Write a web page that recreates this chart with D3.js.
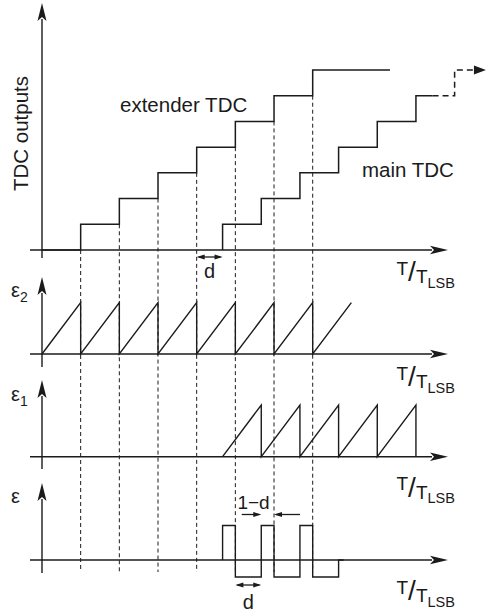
<!DOCTYPE html>
<html>
<head>
<meta charset="utf-8">
<script src="https://cdn.jsdelivr.net/npm/d3@7"></script>
<style>
  html, body { margin: 0; padding: 0; background: #fff; }
  svg { display: block; font-family: "Liberation Sans", Arial, Helvetica, sans-serif; }
</style>
</head>
<body>
<svg id="chart" width="486" height="615"></svg>
<script>
// ---- data (time in units of T_LSB) ----
// extender TDC output: [time, code], drawn as step-after
const extenderTDC = [[0, 0], [1, 1], [2, 2], [3, 3], [4, 4], [5, 5], [6, 6], [7, 7], [9, 7]];
// main TDC output, delayed by d
const mainTDC = [[4.67, 0], [4.67, 1], [5.67, 2], [6.67, 3], [7.67, 4], [8.67, 5], [9.67, 6], [10.1, 6]];
// main TDC continuation (dashed)
const mainTDCNext = [[10.1, 6], [10.67, 7], [11.48, 7]];
// extender TDC quantisation error
const eps2 = [[0, 0], [1, 1], [1, 0], [2, 1], [2, 0], [3, 1], [3, 0], [4, 1], [4, 0], [5, 1], [5, 0], [6, 1], [6, 0], [7, 1], [7, 0], [8, 1]];
// main TDC quantisation error
const eps1 = [[4.67, 0], [5.67, 1], [5.67, 0], [6.67, 1], [6.67, 0], [7.67, 1], [7.67, 0], [8.67, 1], [8.67, 0], [9.67, 1], [9.67, 0]];
// difference of the two errors, step-after
const eps = [[4.67, 0], [4.67, 0.67], [5, -0.33], [5.67, 0.67], [6, -0.33], [6.67, 0.67], [7, -0.33], [7.67, 0], [7.8, 0]];
// extender transitions marked by dashed guides
const guideTimes = [1, 2, 3, 4, 5, 6, 7];
// dimension markers
const dTop = [4, 4.67];
const dBottom = [5, 5.67];
const oneMinusD = [5.67, 6];

const svg = d3.select("#chart");
const ink = "#1b1b1b";

const x = d3.scaleLinear().domain([0, 10]).range([42, 428.7]);
const yTop = d3.scaleLinear().domain([0, 7]).range([250, 70]);
const yE2 = d3.scaleLinear().domain([0, 1]).range([354, 302.7]);
const yE1 = d3.scaleLinear().domain([0, 1]).range([456.7, 405]);
const yE = d3.scaleLinear().domain([0, 1]).range([560, 508.5]);

// dashed guides at extender transitions
const guides = svg.append("g");
guideTimes.forEach(t => {
  const before = extenderTDC.find(p => p[0] === t);
  const lvl = before[1] - 1;
  guides.append("line")
    .attr("x1", x(t)).attr("x2", x(t))
    .attr("y1", yTop(lvl)).attr("y2", 572)
    .attr("stroke", ink).attr("stroke-width", 1)
    .attr("stroke-dasharray", "4,3");
});

// axes with arrowheads
function hArrow(y0) {
  const x0 = 30, tip = 448, len = 18, hw = 4.2;
  svg.append("line").attr("x1", x0).attr("x2", tip - len + 2).attr("y1", y0).attr("y2", y0)
    .attr("stroke", ink).attr("stroke-width", 1.4);
  svg.append("path").attr("d", `M${tip},${y0}L${tip - len},${y0 - hw}L${tip - len + 4},${y0}L${tip - len},${y0 + hw}Z`)
    .attr("fill", ink);
}
function vArrow(bottom, tip) {
  const x0 = 42, len = 18, hw = 4.5;
  svg.append("line").attr("x1", x0).attr("x2", x0).attr("y1", bottom).attr("y2", tip + len - 2)
    .attr("stroke", ink).attr("stroke-width", 1.4);
  svg.append("path").attr("d", `M${x0},${tip}L${x0 - hw},${tip + len}L${x0},${tip + len - 4}L${x0 + hw},${tip + len}Z`)
    .attr("fill", ink);
}
hArrow(250); vArrow(258, 3);
hArrow(354); vArrow(367, 277);
hArrow(456.7); vArrow(469, 380);
hArrow(560); vArrow(573, 483);

// TDC output staircases
const stepLine = (ys) => d3.line().x(d => x(d[0])).y(d => ys(d[1])).curve(d3.curveStepAfter);
const polyLine = (ys) => d3.line().x(d => x(d[0])).y(d => ys(d[1]));

svg.append("path").attr("d", stepLine(yTop)(extenderTDC))
  .attr("fill", "none").attr("stroke", ink).attr("stroke-width", 1.5);
svg.append("path").attr("d", stepLine(yTop)(mainTDC))
  .attr("fill", "none").attr("stroke", ink).attr("stroke-width", 1.5);
const nextPts = mainTDCNext.slice(0, -1).concat([[mainTDCNext[2][0] - 0.3, mainTDCNext[2][1]]]);
svg.append("path").attr("d", stepLine(yTop)(nextPts))
  .attr("fill", "none").attr("stroke", ink).attr("stroke-width", 1.5).attr("stroke-dasharray", "6,4");
{
  const tx = x(mainTDCNext[2][0]), ty = yTop(mainTDCNext[2][1]);
  svg.append("path").attr("d", `M${tx},${ty}L${tx - 12},${ty - 4.5}L${tx - 12},${ty + 4.5}Z`).attr("fill", ink);
}

// quantisation errors
svg.append("path").attr("d", polyLine(yE2)(eps2))
  .attr("fill", "none").attr("stroke", ink).attr("stroke-width", 1.4);
svg.append("path").attr("d", polyLine(yE1)(eps1))
  .attr("fill", "none").attr("stroke", ink).attr("stroke-width", 1.4);
svg.append("path").attr("d", stepLine(yE)(eps))
  .attr("fill", "none").attr("stroke", ink).attr("stroke-width", 1.4);

// dimension arrows
function arrowHead(xt, y0, dir) {
  const len = 8, hw = 2.6;
  svg.append("path").attr("d", `M${xt},${y0}L${xt - dir * len},${y0 - hw}L${xt - dir * len},${y0 + hw}Z`).attr("fill", ink);
}
function doubleArrow(t0, t1, y0) {
  svg.append("line").attr("x1", x(t0) + 2).attr("x2", x(t1) - 2).attr("y1", y0).attr("y2", y0)
    .attr("stroke", ink).attr("stroke-width", 1.3);
  arrowHead(x(t0), y0, -1);
  arrowHead(x(t1), y0, 1);
}
doubleArrow(dTop[0], dTop[1], 257);
doubleArrow(dBottom[0], dBottom[1], 585);
{
  const y0 = 514.5;
  svg.append("line").attr("x1", 241.7).attr("x2", x(oneMinusD[0]) - 2).attr("y1", y0).attr("y2", y0)
    .attr("stroke", ink).attr("stroke-width", 1.3);
  svg.append("line").attr("x1", x(oneMinusD[1]) + 2).attr("x2", 300).attr("y1", y0).attr("y2", y0)
    .attr("stroke", ink).attr("stroke-width", 1.3);
  arrowHead(x(oneMinusD[0]), y0, 1);
  arrowHead(x(oneMinusD[1]), y0, -1);
}

// text
const txt = (s, tx, ty, size, anchor) => svg.append("text").attr("x", tx).attr("y", ty)
  .attr("font-size", size).attr("fill", ink).attr("text-anchor", anchor || "start").text(s);

svg.append("text").attr("transform", "translate(28,133.5) rotate(-90)")
  .attr("text-anchor", "middle").attr("font-size", 20.5).attr("fill", ink).text("TDC outputs");
txt("extender TDC", 120, 111.5, 20.5);
txt("main TDC", 362, 176.5, 20.5);

txt("d", (x(dTop[0]) + x(dTop[1])) / 2, 278, 20, "middle");
txt("d", (x(dBottom[0]) + x(dBottom[1])) / 2, 609, 20, "middle");
txt("1\u2212d", 253.5, 509, 19, "middle");

// axis title T / T_LSB as a single text run
function tLabel(axisY, off) {
  const t = svg.append("text").attr("x", 396.5).attr("y", axisY + off + 13.5)
    .attr("font-size", 19).attr("fill", ink);
  t.append("tspan").text("T");
  t.append("tspan").attr("font-size", 28).attr("dx", 0).attr("dy", 6.5).text("/");
  t.append("tspan").attr("dx", 0).attr("dy", 2).text("T");
  t.append("tspan").attr("font-size", 14.5).attr("dy", 4.5).text("LSB");
}
tLabel(250, 11);
tLabel(354, 12);
tLabel(456.7, 20);
tLabel(560, 20);

function epsLabel(sub, ty) {
  const t = svg.append("text").attr("x", 11).attr("y", ty).attr("font-size", 20).attr("fill", ink);
  t.append("tspan").text("\u03B5");
  if (sub) t.append("tspan").attr("font-size", 14).attr("dy", 5).text(sub);
}
epsLabel("2", 297);
epsLabel("1", 401);
epsLabel("", 503);
</script>
</body>
</html>
